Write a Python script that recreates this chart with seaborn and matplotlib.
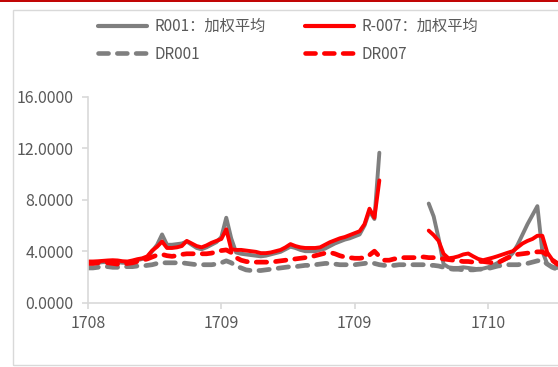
import numpy as np
import pandas as pd
import matplotlib
matplotlib.use("Agg")
import matplotlib.pyplot as plt
import seaborn as sns
from matplotlib.lines import Line2D
from matplotlib.patches import Rectangle

nan = np.nan

# category axis: one label every 27 trading days
tick_labels = ["1708", "1709", "1709", "1710"]
tick_step = 27

r001 = [3.05, 3.05, 3.10, 3.15, 3.15, 3.20, 3.15, 3.10, 3.10, 3.15,
        3.30, 3.40, 3.50, 4.00, 4.50, 5.30, 4.50, 4.50, 4.55, 4.60,
        4.75, 4.50, 4.25, 4.15, 4.30, 4.50, 4.70, 5.10, 6.60, 5.00,
        3.90, 3.80, 3.75, 3.70, 3.65, 3.60, 3.65, 3.75, 3.85, 3.95,
        4.15, 4.35, 4.25, 4.10, 4.00, 4.00, 4.00, 4.10, 4.20, 4.40,
        4.60, 4.75, 4.90, 5.00, 5.15, 5.30, 6.00, 7.10, 6.50, 11.65,
        nan, nan, nan, nan, nan, nan, nan, nan, nan,
        7.70, 6.70, 5.00, 3.00, 2.75, 2.70, 2.70, 2.75, 2.70, 2.65,
        2.60, 2.65, 2.75, 2.90, 3.10, 3.30, 3.45, 3.85, 4.50, 5.30,
        6.10, 6.80, 7.50, 4.00, 3.00, 2.80, 2.70]

r007 = [3.20, 3.20, 3.22, 3.25, 3.28, 3.30, 3.28, 3.22, 3.20, 3.28,
        3.38, 3.45, 3.60, 4.05, 4.35, 4.75, 4.25, 4.25, 4.30, 4.40,
        4.80, 4.60, 4.40, 4.30, 4.45, 4.65, 4.80, 4.95, 5.70, 4.15,
        4.10, 4.10, 4.05, 4.00, 3.95, 3.85, 3.85, 3.90, 4.00, 4.10,
        4.30, 4.55, 4.40, 4.30, 4.25, 4.25, 4.25, 4.30, 4.50, 4.70,
        4.85, 5.00, 5.10, 5.25, 5.40, 5.55, 6.10, 7.30, 6.60, 9.50,
        nan, nan, nan, nan, nan, nan, nan, nan, nan,
        5.60, 5.25, 4.80, 3.80, 3.45, 3.50, 3.60, 3.75, 3.82, 3.60,
        3.40, 3.30, 3.40, 3.50, 3.62, 3.75, 3.88, 4.00, 4.30, 4.60,
        4.80, 4.95, 5.20, 5.20, 3.90, 3.35, 3.10, 3.00]

dr001 = [2.70, 2.70, 2.75, 2.80, 2.80, 2.75, 2.75, 2.80, 2.80, 2.80,
         2.85, 2.85, 2.90, 2.95, 3.05, 3.10, 3.10, 3.10, 3.10, 3.10,
         3.05, 3.00, 2.95, 2.95, 2.95, 2.95, 3.00, 3.10, 3.25, 3.10,
         2.85, 2.70, 2.55, 2.50, 2.50, 2.50, 2.55, 2.60, 2.65, 2.70,
         2.75, 2.80, 2.80, 2.85, 2.90, 2.90, 2.95, 3.00, 3.05, 3.05,
         3.00, 2.95, 2.95, 2.95, 2.95, 3.00, 3.05, 3.10, 3.05, 2.95,
         2.90, 2.90, 2.90, 2.95, 2.95, 2.95, 2.95, 2.95, 2.95, 2.90,
         2.90, 2.85, 2.75, 2.65, 2.60, 2.60, 2.55, 2.55, 2.55, 2.60,
         2.60, 2.65, 2.75, 2.85, 2.90, 2.95, 2.95, 2.95, 3.00, 3.05,
         3.15, 3.25, 3.30, 3.00, 2.75, 2.60, 2.55]

dr007 = [3.05, 3.05, 3.10, 3.10, 3.10, 3.05, 3.00, 3.00, 3.05, 3.10,
         3.20, 3.30, 3.40, 3.55, 3.70, 3.75, 3.65, 3.60, 3.65, 3.75,
         3.80, 3.80, 3.80, 3.80, 3.80, 3.85, 3.95, 4.05, 4.10, 3.90,
         3.50, 3.30, 3.20, 3.15, 3.15, 3.15, 3.15, 3.15, 3.20, 3.25,
         3.30, 3.35, 3.40, 3.45, 3.50, 3.55, 3.65, 3.75, 3.85, 3.90,
         3.80, 3.65, 3.55, 3.50, 3.45, 3.45, 3.50, 3.70, 4.00, 3.60,
         3.30, 3.30, 3.40, 3.45, 3.50, 3.50, 3.50, 3.55, 3.55, 3.50,
         3.50, 3.45, 3.40, 3.35, 3.30, 3.25, 3.20, 3.20, 3.15, 3.20,
         3.20, 3.15, 3.10, 3.10, 3.30, 3.50, 3.60, 3.75, 3.80, 3.85,
         3.90, 3.95, 3.95, 3.70, 3.30, 3.00, 2.90]

series_names = ["R001：加权平均", "R-007：加权平均", "DR001", "DR007"]
series_values = [r001, r007, dr001, dr007]
series_colors = ["#7f7f7f", "#ff0000", "#7f7f7f", "#ff0000"]
series_dashed = [False, False, True, True]

# long-form table; a new segment starts after each run of missing values
frames = []
for name, vals in zip(series_names, series_values):
    v = np.asarray(vals, dtype=float)
    seg = np.cumsum(np.r_[0, np.diff(np.isnan(v).astype(int)) == -1])
    frames.append(pd.DataFrame({"idx": np.arange(len(v)), "value": v,
                                "series": name, "seg": seg}))
df = pd.concat(frames, ignore_index=True)

sns.set_theme(style="white")
plt.rcParams["font.family"] = ["Noto Sans CJK SC", "DejaVu Sans"]
text_color = "#595959"
axis_color = "#d9d9d9"
dash_pattern = (0, (2.2, 1.9))

W, H = 558, 367
fig = plt.figure(figsize=(W / 100, H / 100), dpi=100)

# outer chart frame and the thin red rule across the top
fig.add_artist(Rectangle((12.5 / W, 2 / H), 1.2, 355 / H,
                         transform=fig.transFigure, fill=False,
                         edgecolor=axis_color, lw=1.0))
fig.add_artist(Line2D([0, 1], [1 - 0.8 / H, 1 - 0.8 / H],
                      transform=fig.transFigure, color="#c00000", lw=1.4))

x0_px, y0_px, ytop_px = 88, 302.7, 96.7
ax = fig.add_axes([x0_px / W, (H - y0_px) / H, (W - x0_px) / W,
                   (y0_px - ytop_px) / H])

px_per_pt = 133.33 / tick_step
for name, c, dashed in zip(series_names, series_colors, series_dashed):
    sub = df[df["series"] == name]
    kw = dict(color=c, ax=ax, legend=False, units="seg", estimator=None,
              solid_capstyle="round", solid_joinstyle="round")
    if dashed:
        sns.lineplot(data=sub, x="idx", y="value", lw=3.4,
                     linestyle=dash_pattern, dash_capstyle="round", **kw)
    else:
        sns.lineplot(data=sub, x="idx", y="value", lw=2.8, **kw)

ax.set_xlim(0, (W - x0_px) / px_per_pt)
ax.set_ylim(0, 16)
ax.set_xticks([k * tick_step for k in range(len(tick_labels))])
ax.set_xticklabels(tick_labels)
ax.set_yticks([0, 4, 8, 12, 16])
ax.set_yticklabels([f"{v:.4f}" for v in [0, 4, 8, 12, 16]])
ax.set_xlabel("")
ax.set_ylabel("")
for s in ["top", "right"]:
    ax.spines[s].set_visible(False)
for s in ["left", "bottom"]:
    ax.spines[s].set_color(axis_color)
    ax.spines[s].set_linewidth(1.2)
ax.tick_params(axis="both", colors=axis_color, labelcolor=text_color,
               labelsize=11.5, direction="out", length=4.5, width=1.2,
               left=True, bottom=True)
ax.tick_params(axis="x", pad=4)
ax.tick_params(axis="y", pad=6)
ax.patch.set_alpha(0)

handles = []
for name, c, dashed in zip(series_names, series_colors, series_dashed):
    if dashed:
        h = Line2D([], [], color=c, lw=3.3, linestyle=dash_pattern,
                   dash_capstyle="round")
    else:
        h = Line2D([], [], color=c, lw=3.0)
    handles.append(h)
order = [0, 2, 1, 3]
leg = fig.legend([handles[i] for i in order], [series_names[i] for i in order],
                 ncol=2, loc="upper left", bbox_to_anchor=(98 / W, 1 - 18 / H),
                 bbox_transform=fig.transFigure, frameon=False, fontsize=11,
                 handlelength=3.2, handletextpad=0.5, columnspacing=2.55,
                 labelspacing=0.7, borderpad=0, borderaxespad=0)
for t in leg.get_texts():
    t.set_color(text_color)

fig.savefig("out.png", dpi=100)
